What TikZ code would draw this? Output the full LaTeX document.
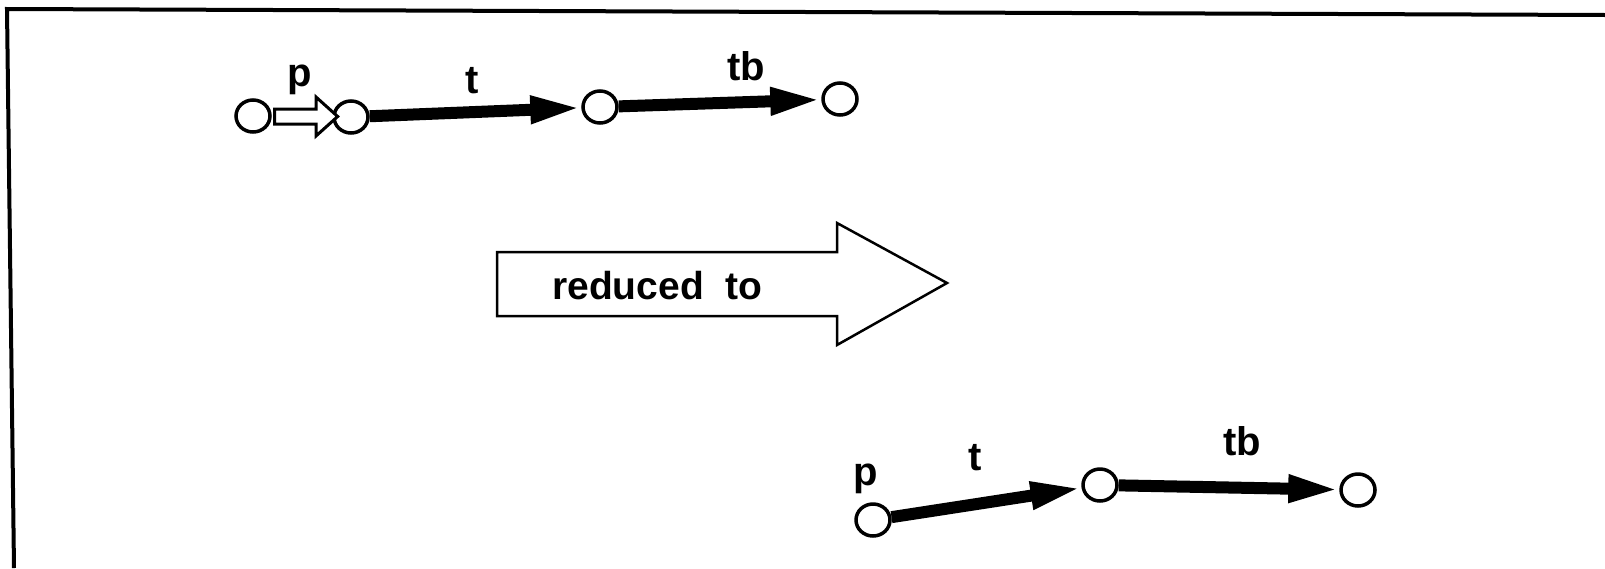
\documentclass[tikz,border=0pt]{standalone}
\usepackage{fontspec}
\setmainfont{Liberation Sans}
\usetikzlibrary{arrows.meta,shapes.geometric,shapes.arrows}
\tikzset{
  state/.style={ellipse,draw,line width=3.5pt,fill=white,minimum width=34pt,minimum height=32pt,inner sep=0pt},
  fat/.style={line width=12pt,-{Triangle[length=52pt,width=25pt]},shorten >=-1pt},
  hollowarrow/.style={single arrow,draw,line width=3pt,fill=white,minimum height=63pt,
    text height=0pt,text depth=0pt,inner xsep=0pt,inner ysep=6pt,
    single arrow head extend=12pt,single arrow tip angle=84,font=\tiny},
  lbl/.style={font=\bfseries\fontsize{40}{40}\selectfont,inner sep=0pt,anchor=base},
  frame/.style={line width=4pt},
  bigarrow/.style={draw,line width=2.5pt,fill=white}
}
\begin{document}
\begin{tikzpicture}[x=1pt,y=-1pt]
\useasboundingbox (0,0) rectangle (1605,568);
% frame
\coordinate (f1) at (7,9);
\coordinate (f2) at (1605,15);
\coordinate (f3) at (14,568);
\draw[frame] (f2) -- (f1) -- (f3);
% top graph
\node[state] (c1) at (253,116) {};
\node[state] (c2) at (351,117) {};
\node[state] (c3) at (600,107) {};
\node[state] (c4) at (840,99) {};
\path (c1.east) -- (c2.west) node[midway,hollowarrow] (pa) {};
\draw[fat] (c2) -- (c3);
\draw[fat] (c3) -- (c4);
\node[lbl] (lp1) at (300,86) {p};
\node[lbl] (lt1) at (472,93) {t};
\node[lbl] (ltb1) at (746,80) {tb};
% reduced to
\draw[bigarrow] (497,252) -- (837,252) -- (837,223) -- (947,283) -- (837,345) -- (837,316) -- (497,316) -- cycle;
\node[font=\bfseries\fontsize{39}{39}\selectfont,inner sep=0pt,anchor=base west] (red) at (552,299) {reduced\ \ to};
% bottom graph
\node[state] (d1) at (873,520) {};
\node[state] (d2) at (1100,485) {};
\node[state] (d3) at (1358,490) {};
\draw[fat] (d1) -- (d2);
\draw[fat] (d2) -- (d3);
\node[lbl] (lp2) at (866,485) {p};
\node[lbl] (lt2) at (975,470) {t};
\node[lbl] (ltb2) at (1242,455) {tb};
\end{tikzpicture}
\end{document}
